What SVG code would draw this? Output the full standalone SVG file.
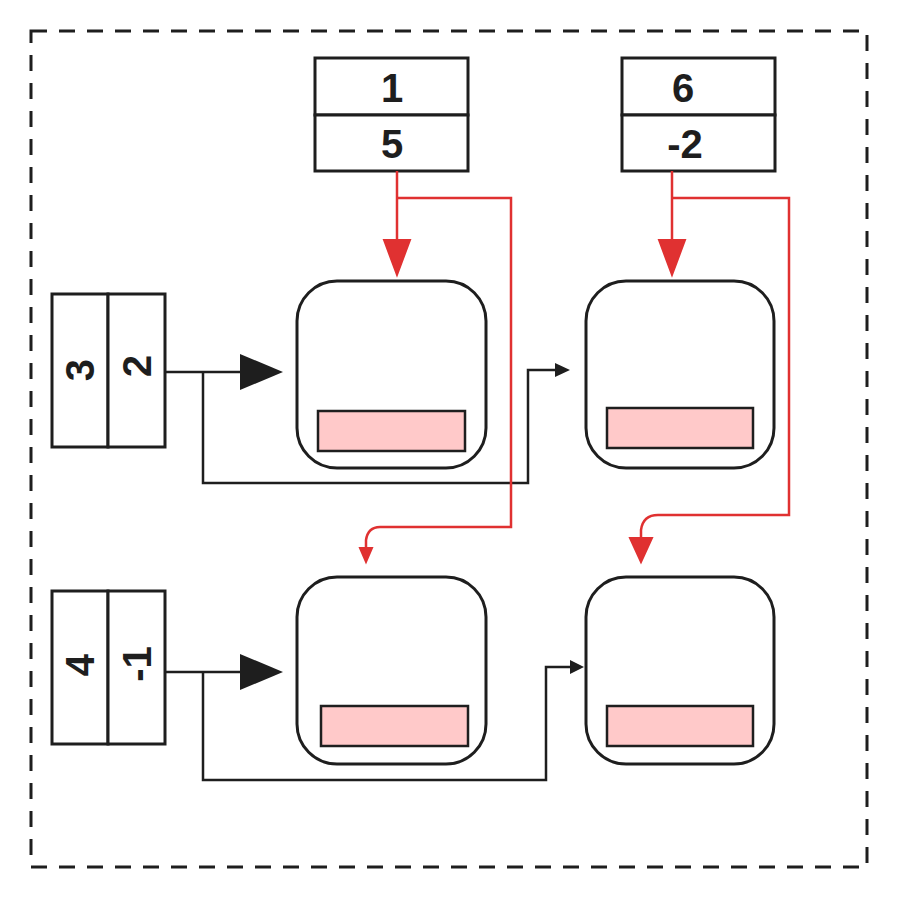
<svg xmlns="http://www.w3.org/2000/svg" width="897" height="897" viewBox="0 0 897 897">
<style>
.b{fill:#fff;stroke:#1e1e1e;stroke-width:3}
.n{fill:#fff;stroke:#1e1e1e;stroke-width:3}
.p{fill:#ffc9c9;stroke:#1e1e1e;stroke-width:2.5}
.t{font-family:"Liberation Sans",sans-serif;font-size:40px;font-weight:bold;fill:#1e1e1e;text-anchor:middle;dominant-baseline:central}
.k{fill:none;stroke:#1e1e1e;stroke-width:2.5}
.r{fill:none;stroke:#e03131;stroke-width:2.5}
</style>
<rect x="31" y="31" width="836" height="836" fill="none" stroke="#1e1e1e" stroke-width="3" stroke-dasharray="16 12"/>
<g id="top1"><rect class="b" x="315" y="58" width="153" height="57"/><rect class="b" x="315" y="115" width="153" height="56"/><text class="t" x="392" y="88">1</text><text class="t" x="392" y="144">5</text></g>
<g id="top2"><rect class="b" x="622" y="58" width="153" height="57"/><rect class="b" x="622" y="115" width="153" height="56"/><text class="t" x="683" y="88">6</text><text class="t" x="685" y="144">-2</text></g>
<g id="left1"><rect class="b" x="52" y="294" width="56" height="153"/><rect class="b" x="108" y="294" width="57" height="153"/><text class="t" transform="translate(80,370) rotate(-90)">3</text><text class="t" transform="translate(137,366) rotate(-90)">2</text></g>
<g id="left2"><rect class="b" x="52" y="591" width="56" height="153"/><rect class="b" x="108" y="591" width="57" height="153"/><text class="t" transform="translate(80,665) rotate(-90)">4</text><text class="t" transform="translate(137,664) rotate(-90)">-1</text></g>
<g id="node1"><rect class="n" x="297" y="281" width="189" height="187" rx="40"/><rect class="p" x="318" y="411" width="147" height="40"/></g>
<g id="node2"><rect class="n" x="586" y="281" width="188" height="187" rx="40"/><rect class="p" x="607" y="408" width="146" height="40"/></g>
<g id="node3"><rect class="n" x="297" y="577" width="189" height="187" rx="40"/><rect class="p" x="321" y="706" width="147" height="40"/></g>
<g id="node4"><rect class="n" x="586" y="577" width="188" height="187" rx="40"/><rect class="p" x="607" y="706" width="146" height="40"/></g>
<g id="connectors">
<path class="k" d="M165 372H240"/><path d="M240 354L283 372L240 390Z" fill="#1e1e1e"/>
<path class="k" d="M203 372V483H528V370H555"/><path d="M555 363L570 370L555 377Z" fill="#1e1e1e"/>
<path class="k" d="M165 672H240"/><path d="M240 654L283 672L240 690Z" fill="#1e1e1e"/>
<path class="k" d="M203 672V780H546V667H570"/><path d="M570 660L584 667L570 674Z" fill="#1e1e1e"/>
<path class="r" d="M397 171V240"/><path d="M384 240L397 275L410 240Z" fill="#e03131" stroke="#e03131" stroke-width="2"/>
<path class="r" d="M397 198H511V527H380Q368 527 366 540V555"/><path d="M360 548L366 562L372 548Z" fill="#e03131" stroke="#e03131" stroke-width="2"/>
<path class="r" d="M672 171V240"/><path d="M659 240L672 275L685 240Z" fill="#e03131" stroke="#e03131" stroke-width="2"/>
<path class="r" d="M672 198H789V515H658Q643 515 641 530V545"/><path d="M630 538L641 562L652 538Z" fill="#e03131" stroke="#e03131" stroke-width="2"/>
</g>
</svg>
